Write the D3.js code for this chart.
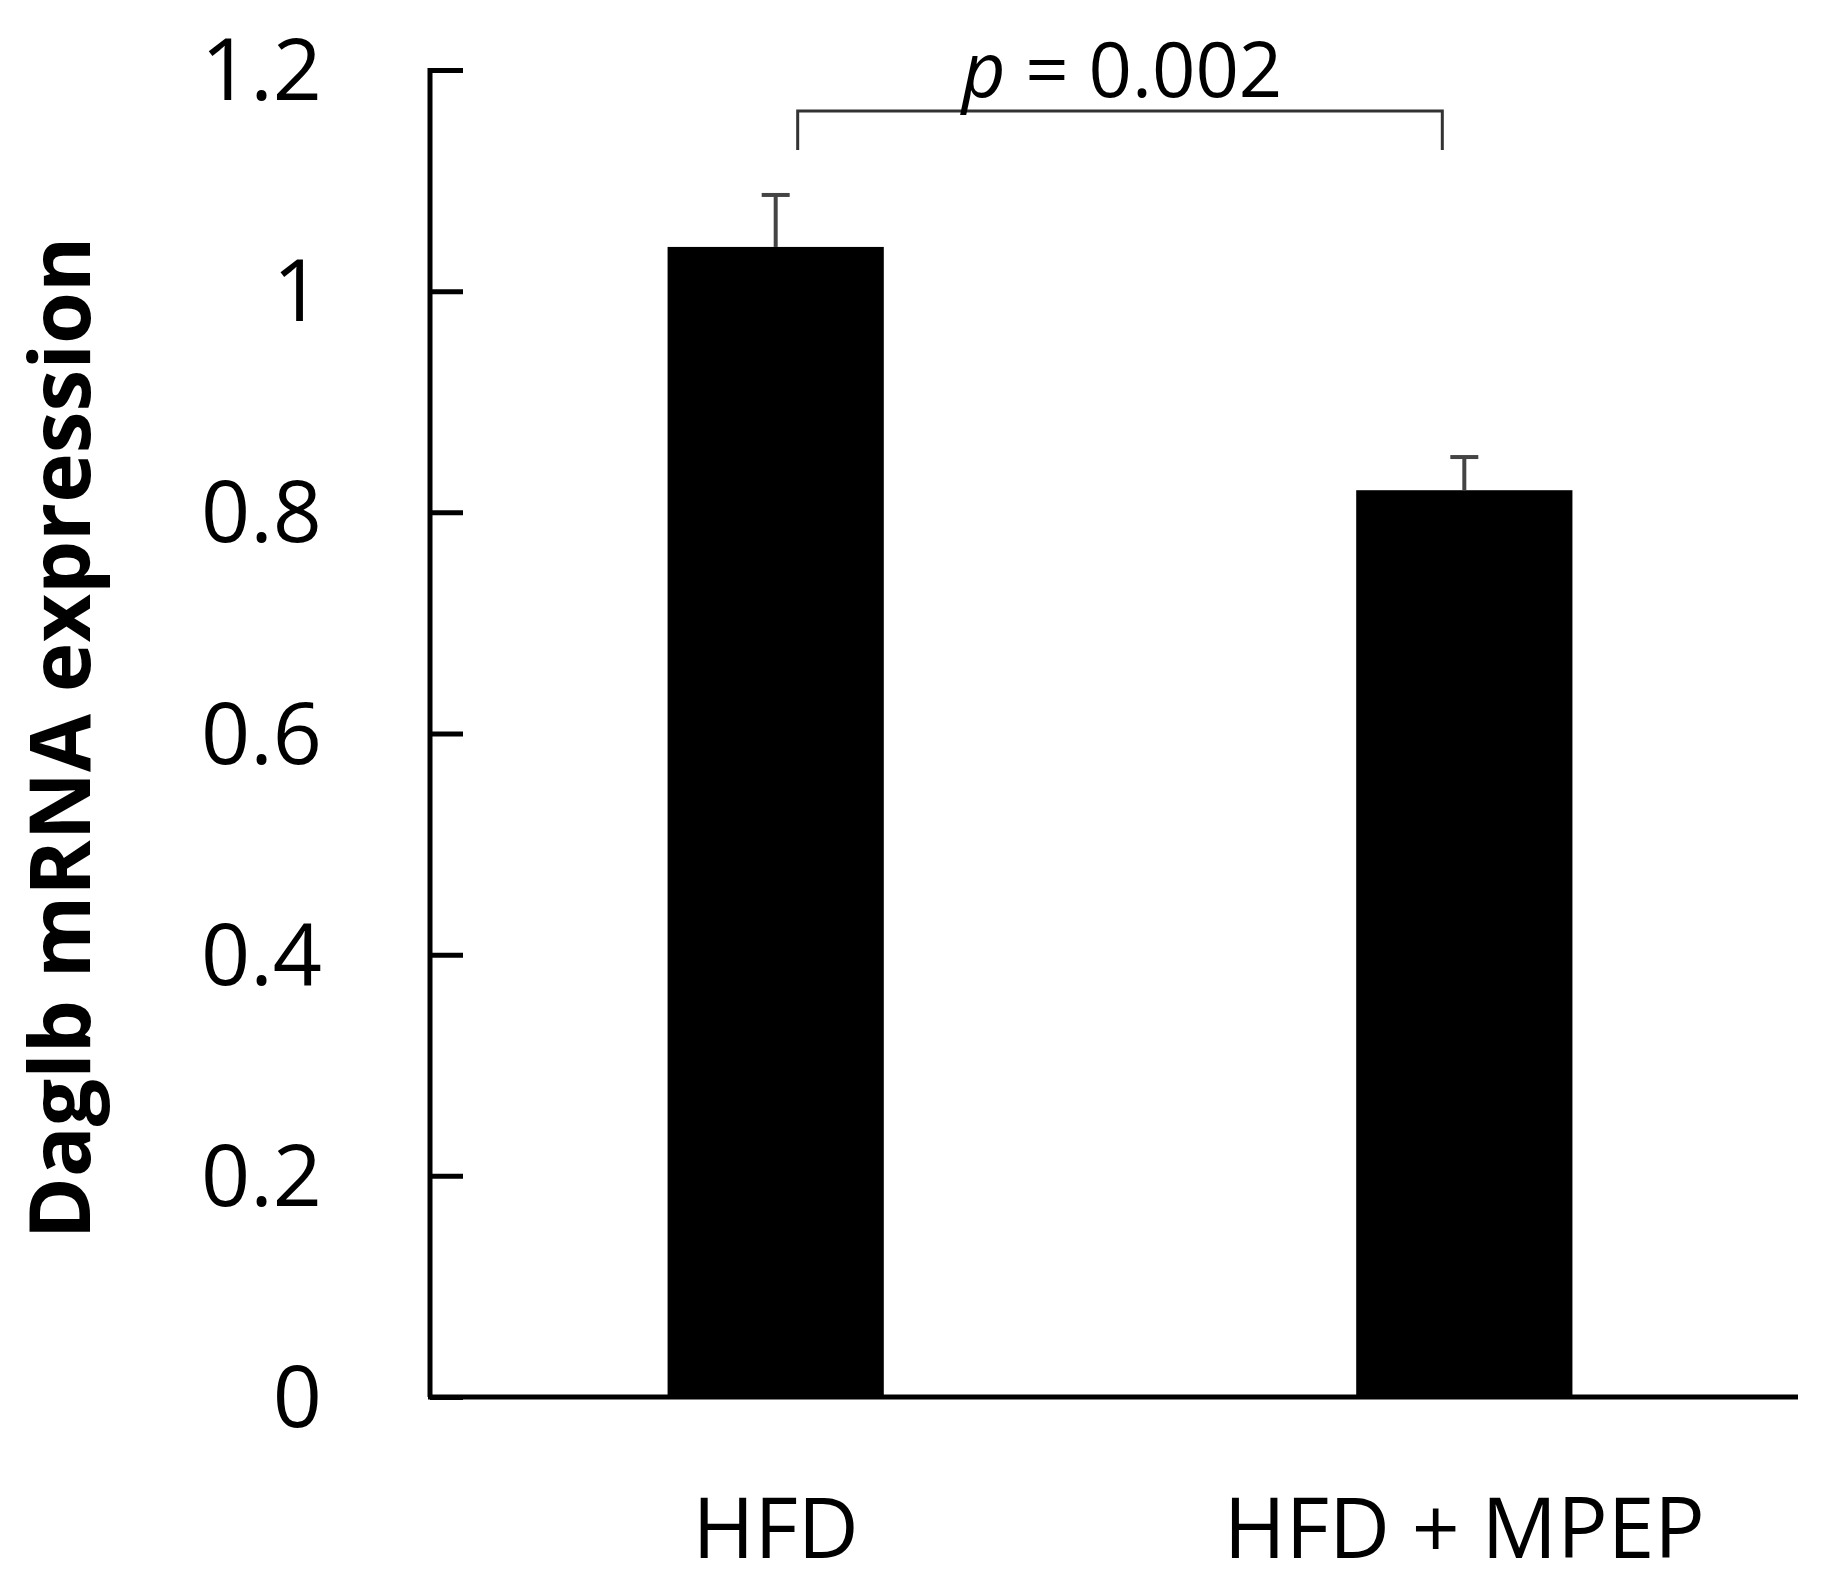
<!DOCTYPE html>
<html><head><meta charset="utf-8">
<script src="https://cdn.jsdelivr.net/npm/d3@7"></script>
<style>body{margin:0;background:#fff}</style></head>
<body><svg id="c" width="1827" height="1589"></svg>
<script>
const categories = ["HFD", "HFD + MPEP"];
const values = [1.04, 0.82];
const errors = [0.047, 0.03];
const yTicks = [0, 0.2, 0.4, 0.6, 0.8, 1, 1.2];
const pLabel = "0.002";

const svg = d3.select("#c");
const font = "'Open Sans', sans-serif";
const y = d3.scaleLinear().domain([0, 1.2]).range([1397, 70]);
const x = d3.scaleBand().domain(categories).range([430, 1810]).paddingInner(0.686).paddingOuter(0.345);

svg.selectAll("rect.bar").data(values).join("rect")
  .attr("x", (d,i)=>x(categories[i])).attr("width", x.bandwidth())
  .attr("y", d=>y(d)).attr("height", d=>y(0)-y(d)).attr("fill","#000");
const eg = svg.append("g").attr("stroke","#444").attr("stroke-width",4);
values.forEach((v,i)=>{
  const cx = x(categories[i]) + x.bandwidth()/2;
  eg.append("line").attr("x1",cx).attr("x2",cx).attr("y1",y(v)).attr("y2",y(v+errors[i]));
  eg.append("line").attr("x1",cx-14).attr("x2",cx+14).attr("y1",y(v+errors[i])).attr("y2",y(v+errors[i]));
});

const ya = svg.append("g").attr("transform","translate(430,0)")
  .call(d3.axisRight(y).tickValues(yTicks).tickSize(33).tickFormat(d3.format("~g")));
ya.select(".domain").remove();
ya.selectAll("line").attr("stroke","#000").attr("stroke-width",5);
ya.selectAll("text").remove();
svg.append("line").attr("x1",430).attr("x2",430).attr("y1",y(1.2)-2).attr("y2",y(0)).attr("stroke","#000").attr("stroke-width",5);
svg.selectAll("text.yt").data(yTicks).join("text")
  .attr("x",322).attr("y",d=>y(d)).attr("dy","0.35em").attr("text-anchor","end")
  .attr("font-family",font).attr("font-size",86).attr("fill","#000")
  .text(d3.format("~g"));
svg.append("line").attr("x1",428).attr("x2",1798).attr("y1",y(0)).attr("y2",y(0)).attr("stroke","#000").attr("stroke-width",5);
svg.selectAll("text.xl").data(categories).join("text")
  .attr("x",d=>x(d)+x.bandwidth()/2).attr("y",1558).attr("text-anchor","middle")
  .attr("font-family",font).attr("font-size",84).attr("fill","#000").text(d=>d);

svg.append("text").attr("transform","translate(90,738) rotate(-90)").attr("text-anchor","middle")
  .attr("font-family",font).attr("font-size",84).attr("font-weight","bold").attr("fill","#000")
  .text("Daglb mRNA expression");

const bx1 = x(categories[0]) + x.bandwidth()/2 + 22, bx2 = x(categories[1]) + x.bandwidth()/2 - 22;
svg.append("path").attr("d",`M${bx1},150 V111 H${bx2} V150`).attr("fill","none").attr("stroke","#333").attr("stroke-width",3);
const pt = svg.append("text").attr("x",1122).attr("y",97).attr("text-anchor","middle")
  .attr("font-family",font).attr("font-size",76).attr("fill","#000");
pt.append("tspan").attr("font-style","italic").text("p");
pt.append("tspan").text(" = " + pLabel);
</script></body></html>
